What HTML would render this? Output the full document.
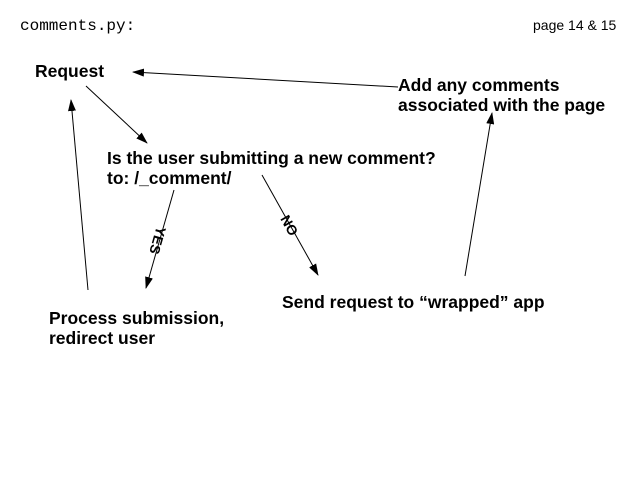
<!DOCTYPE html>
<html><head><style>
body{margin:0;width:640px;height:480px;background:#fff;position:relative;overflow:hidden}
.t{position:absolute;font-family:"Liberation Sans",sans-serif;font-weight:bold;font-size:17.5px;line-height:20px;color:#000;white-space:nowrap}
</style></head><body>
<div class="t" style="left:20px;top:16px;font-family:'Liberation Mono',monospace;font-weight:normal;font-size:16px">comments.py:</div>
<div class="t" style="left:533px;top:15px;font-weight:normal;font-size:14px">page 14 &amp; 15</div>
<div class="t" style="left:35px;top:61px">Request</div>
<div class="t" style="left:398px;top:75px">Add any comments<br>associated with the page</div>
<div class="t" style="left:107px;top:148px">Is the user submitting a new comment?<br>to: /_comment/</div>
<div class="t" style="left:282px;top:292px">Send request to “wrapped” app</div>
<div class="t" style="left:49px;top:308px">Process submission,<br>redirect user</div>
<div class="t" style="left:147px;top:232px;font-size:14px;transform:rotate(106deg);transform-origin:13px 8px">YES</div>
<div class="t" style="left:281px;top:216px;font-size:14px;transform:rotate(61deg);transform-origin:10px 8px">NO</div>
<svg width="640" height="480" style="position:absolute;left:0;top:0">
<defs><marker id="a" markerWidth="12" markerHeight="8" refX="11" refY="4" orient="auto" markerUnits="userSpaceOnUse"><path d="M0,0L12,4L0,8z"/></marker></defs>
<g stroke="#000" stroke-width="1" marker-end="url(#a)">
<line x1="86" y1="86" x2="147" y2="143"/>
<line x1="398" y1="87" x2="133" y2="72"/>
<line x1="88" y1="290" x2="71" y2="100"/>
<line x1="465" y1="276" x2="492" y2="113"/>
<line x1="174" y1="190" x2="146" y2="288"/>
<line x1="262" y1="175" x2="318" y2="275"/>
</g></svg>
</body></html>
